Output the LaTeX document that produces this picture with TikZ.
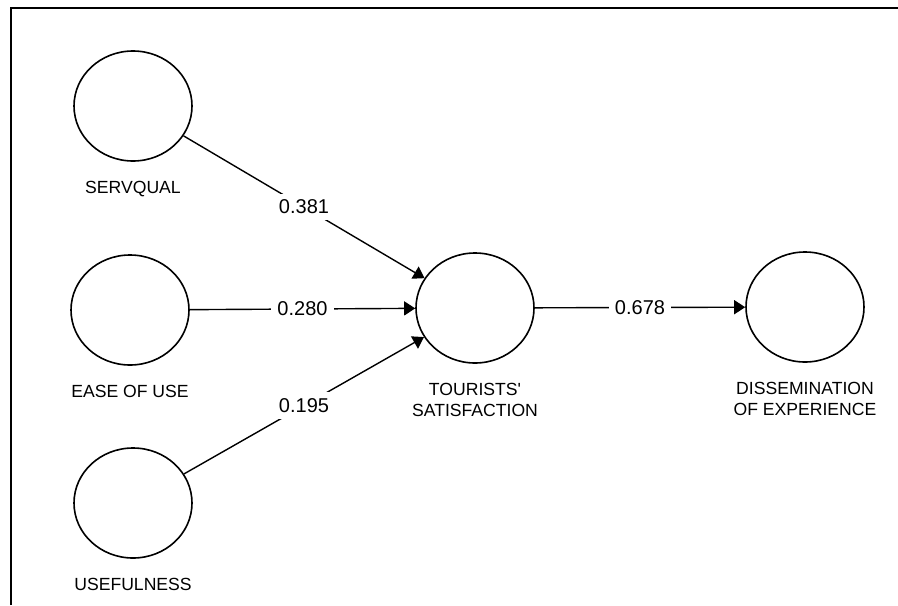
\documentclass[tikz,border=0pt]{standalone}
\usepackage{fontspec}
\setmainfont{Liberation Sans}
\usetikzlibrary{positioning,shapes.geometric,arrows.meta}

\begin{document}
\begin{tikzpicture}[x=0.5pt,y=-0.5pt,
        constructo/.style={draw, ellipse, line width=0.8pt, minimum width=59pt, minimum height=55pt, inner sep=0pt},
        etiqueta/.style={font=\fontsize{8.8}{10.5}\selectfont, align=center, inner sep=0pt},
        peso/.style={fill=white, font=\fontsize{10}{11}\selectfont, inner sep=3pt},
        flecha/.style={-{Triangle[length=5.5pt,width=7pt]}, line width=0.7pt}]
            \useasboundingbox (0,0) rectangle (898,605);

            %Marco
            \coordinate (m1) at (11,605);
            \coordinate (m2) at (11,8);
            \coordinate (m3) at (898,8);
            \draw[line width=1.2pt] (m1) -- (m2) -- (m3);

            %Constructos
            \node[constructo] (serv) at (133,106) {};
            \node[constructo] (ease) at (130,310) {};
            \node[constructo] (usef) at (133,503) {};
            \node[constructo] (tour) at (475,308) {};
            \node[constructo] (dise) at (805,307) {};

            %Etiquetas
            \node[etiqueta, below=9.5pt of serv] (lserv) {SERVQUAL};
            \node[etiqueta, below=9.5pt of ease] (lease) {EASE OF USE};
            \node[etiqueta, below=9.5pt of usef] (lusef) {USEFULNESS};
            \node[etiqueta, below=9.5pt of tour] (ltour) {TOURISTS\textquotesingle\\SATISFACTION};
            \node[etiqueta, below=9.5pt of dise] (ldise) {DISSEMINATION\\OF EXPERIENCE};

            %Caminos
            \draw[flecha] (serv) -- (tour) node[peso, pos=0.5] (p1) {0.381};
            \draw[flecha] (ease) -- (tour) node[peso, pos=0.5] (p2) {0.280};
            \draw[flecha] (usef) -- (tour) node[peso, pos=0.5] (p3) {0.195};
            \draw[flecha] (tour) -- (dise) node[peso, pos=0.5] (p4) {0.678};
        \end{tikzpicture}
\end{document}
